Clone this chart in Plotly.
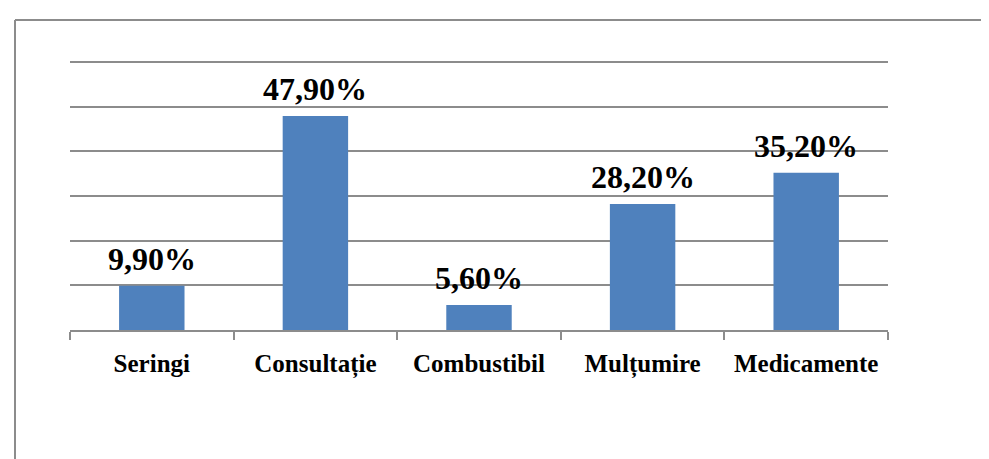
"""Bar chart: share of respondents per payment category."""

import plotly.graph_objects as go

categories = ["Seringi", "Consultație", "Combustibil", "Mulțumire", "Medicamente"]
values = [9.9, 47.9, 5.6, 28.2, 35.2]
labels = ["9,90%", "47,90%", "5,60%", "28,20%", "35,20%"]
y_max = 60

BAR_COLOR = "#4F81BD"
GRID_COLOR = "#8C8C8C"
FONT = "Liberation Serif"

W, H = 989, 459
L, R, T, B = 62, 109, 54, 137
plot_w = W - L - R
plot_h = H - T - B

fig = go.Figure()

fig.add_trace(
    go.Bar(
        x=categories,
        y=values,
        marker=dict(color=BAR_COLOR, line=dict(width=0)),
        hoverinfo="skip",
    )
)

# data labels above each bar
for cat, val, lab in zip(categories, values, labels):
    fig.add_annotation(
        x=cat,
        y=val,
        text=f"<b>{lab}</b>",
        showarrow=False,
        yanchor="bottom",
        yshift=7,
        font=dict(family=FONT, size=32, color="#000000"),
    )

# top gridline at y_max (plotly skips it at the plot edge); paper refs avoid clipping
fig.add_shape(type="line", xref="paper", yref="paper",
              x0=0, x1=1, y0=1, y1=1,
              line=dict(color=GRID_COLOR, width=2), layer="below")

# outer frame (only the top and left edges are visible in the crop)
x_left = (7 - L) / plot_w
y_top = 1 + (T - 12) / plot_h
fig.add_shape(type="line", xref="paper", yref="paper",
              x0=x_left, x1=(W + 20 - L) / plot_w, y0=y_top, y1=y_top,
              line=dict(color=GRID_COLOR, width=2))
fig.add_shape(type="line", xref="paper", yref="paper",
              x0=x_left, x1=x_left, y0=y_top, y1=-(B + 20) / plot_h,
              line=dict(color=GRID_COLOR, width=2))

fig.update_layout(
    width=W,
    height=H,
    margin=dict(l=L, r=R, t=T, b=B),
    paper_bgcolor="white",
    plot_bgcolor="white",
    bargap=0.6,
    showlegend=False,
    font=dict(family=FONT, color="#000000"),
)

fig.update_xaxes(
    showgrid=False,
    showline=True,
    linecolor=GRID_COLOR,
    linewidth=2,
    ticks="outside",
    tickson="boundaries",
    ticklen=8,
    tickwidth=1.5,
    tickcolor=GRID_COLOR,
    tickfont=dict(family=FONT, size=25, color="#000000"),
    ticklabelstandoff=10,
    tickprefix="<b>",
    ticksuffix="</b>",
)

fig.update_yaxes(
    range=[0, y_max],
    dtick=10,
    showgrid=True,
    gridcolor=GRID_COLOR,
    gridwidth=2,
    showticklabels=False,
    zeroline=False,
    showline=False,
)

fig.write_html("out.html")
